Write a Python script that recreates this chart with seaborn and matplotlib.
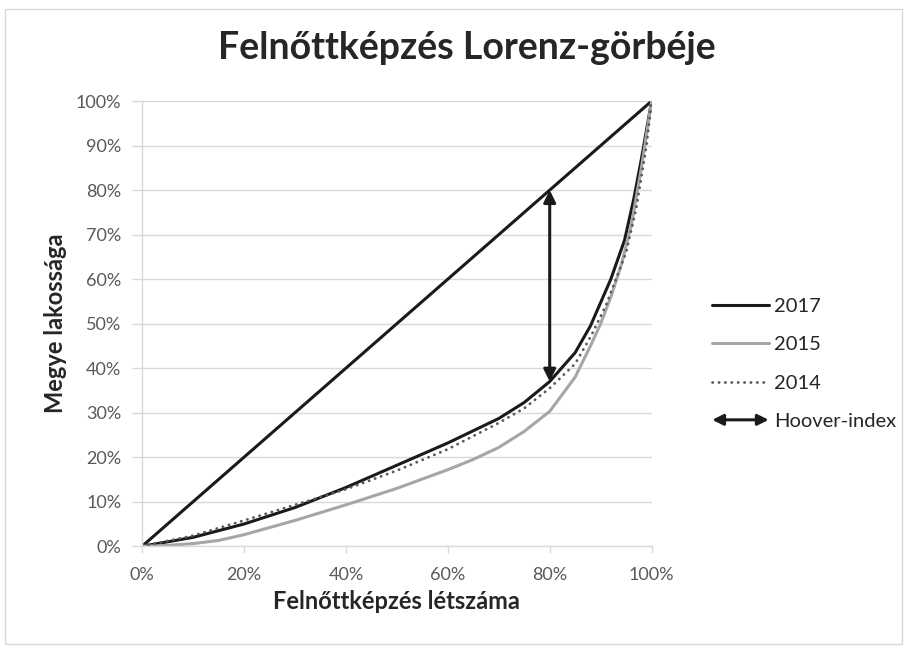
import numpy as np
import matplotlib
matplotlib.use("Agg")
import matplotlib.pyplot as plt
import matplotlib.patches as mpatches
from matplotlib.legend_handler import HandlerBase
from matplotlib.lines import Line2D
from matplotlib.ticker import PercentFormatter
import seaborn as sns

# --- data (in %) ---
x_2017 = [0, 10, 20, 30, 40, 50, 60, 70, 75, 80, 85, 88, 92, 94.7, 96.5, 98, 100]
y_2017 = [0, 2, 5, 8.7, 13.2, 18.2, 23.2, 28.7, 32.3, 37, 43.5, 49.5, 60, 68.8, 78, 87, 100]

x_2015 = [0, 5, 10, 15, 20, 30, 40, 50, 60, 65, 70, 75, 80, 85, 88, 90, 92, 94, 96, 98, 100]
y_2015 = [0, 0.2, 0.6, 1.3, 2.6, 5.8, 9.3, 13, 17.2, 19.5, 22.2, 25.8, 30.3, 38, 45, 50,
          56, 63, 72, 85, 100]

x_2014 = [0, 10, 20, 30, 40, 50, 60, 70, 75, 80, 85, 88, 91, 93, 95, 97, 99, 100]
y_2014 = [0, 2.4, 5.8, 9.3, 12.8, 17, 21.8, 27.7, 31, 35.5, 41, 47, 54, 60, 66, 76, 90, 100]

equality = [0, 100]
hoover_x = 80

# colours
c_2017 = "#1a1a1a"
c_2015 = "#a6a6a6"
c_2014 = "#595959"
grid_c = "#d9d9d9"
text_c = "#595959"
dots = (0, (0.1, 2.2))

sns.set_style("white")
plt.rcParams['font.family'] = ['Lato', 'DejaVu Sans']

fig = plt.figure(figsize=(9.05, 6.48), dpi=100)
ax = fig.add_axes([0.157, 0.157, 0.563, 0.687])

sns.lineplot(x=equality, y=equality, ax=ax, color=c_2017, linewidth=2.2)
sns.lineplot(x=x_2017, y=y_2017, ax=ax, color=c_2017, linewidth=2.2)
sns.lineplot(x=x_2015, y=y_2015, ax=ax, color=c_2015, linewidth=2.2)
sns.lineplot(x=x_2014, y=y_2014, ax=ax, color=c_2014, linewidth=2.0,
             linestyle=dots, dash_capstyle="round")

# Hoover-index arrow between the 2017 curve and the equality line
y_low = np.interp(hoover_x, x_2017, y_2017)
ax.annotate("", xy=(hoover_x, hoover_x), xytext=(hoover_x, y_low),
            arrowprops=dict(arrowstyle="<|-|>", color=c_2017, lw=2.2,
                            mutation_scale=18, shrinkA=0, shrinkB=0))

ax.set_xlim(0, 100)
ax.set_ylim(0, 100)
ax.set_xticks(np.arange(0, 101, 20))
ax.set_yticks(np.arange(0, 101, 10))
ax.xaxis.set_major_formatter(PercentFormatter(decimals=0))
ax.yaxis.set_major_formatter(PercentFormatter(decimals=0))
ax.tick_params(axis="both", labelsize=13, colors=grid_c, labelcolor=text_c,
               width=1, direction="out", bottom=True, left=True)
ax.tick_params(axis="x", length=5, pad=10)
ax.tick_params(axis="y", length=7, pad=8)
ax.yaxis.grid(True, color=grid_c, linewidth=1)
ax.xaxis.grid(False)
for side in ["top", "right"]:
    ax.spines[side].set_visible(False)
for side in ["left", "bottom"]:
    ax.spines[side].set_color(grid_c)
    ax.spines[side].set_linewidth(1)

ax.set_xlabel("Felnőttképzés létszáma", fontsize=17, fontweight="bold",
              color="#262626")
ax.set_ylabel("Megye lakossága", fontsize=17, fontweight="bold",
              color="#262626")
ax.xaxis.set_label_coords(0.5, -0.099)
ax.yaxis.set_label_coords(-0.147, 0.5)
fig.text(0.516, 0.926, "Felnőttképzés Lorenz-görbéje", ha="center", va="center",
         fontsize=27, fontweight="bold", color="#262626")


class HandlerDoubleArrow(HandlerBase):
    def create_artists(self, legend, orig_handle, xdescent, ydescent,
                       width, height, fontsize, trans):
        y = height / 2 - ydescent
        arr = mpatches.FancyArrowPatch((-xdescent, y), (width - xdescent, y),
                                       arrowstyle="<|-|>", mutation_scale=16,
                                       color=c_2017, lw=2.2, transform=trans,
                                       shrinkA=0, shrinkB=0)
        return [arr]


handles = [Line2D([], [], color=c_2017, lw=2.2),
           Line2D([], [], color=c_2015, lw=2.2),
           Line2D([], [], color=c_2014, lw=2.0, linestyle=dots,
                  dash_capstyle="round"),
           mpatches.Patch()]
labels = ["2017", "2015", "2014", "Hoover-index"]
fig.legend(handles, labels, loc="upper left", bbox_to_anchor=(0.767, 0.568),
           frameon=False, fontsize=14.5, handlelength=2.8, handletextpad=0.25,
           labelspacing=1.05, labelcolor="#262626",
           handler_map={mpatches.Patch: HandlerDoubleArrow()})

fig.patches.append(mpatches.Rectangle((0.006, 0.006), 0.991, 0.98,
                                      transform=fig.transFigure, fill=False,
                                      edgecolor=grid_c, linewidth=1))

fig.savefig("out.png", dpi=100)
